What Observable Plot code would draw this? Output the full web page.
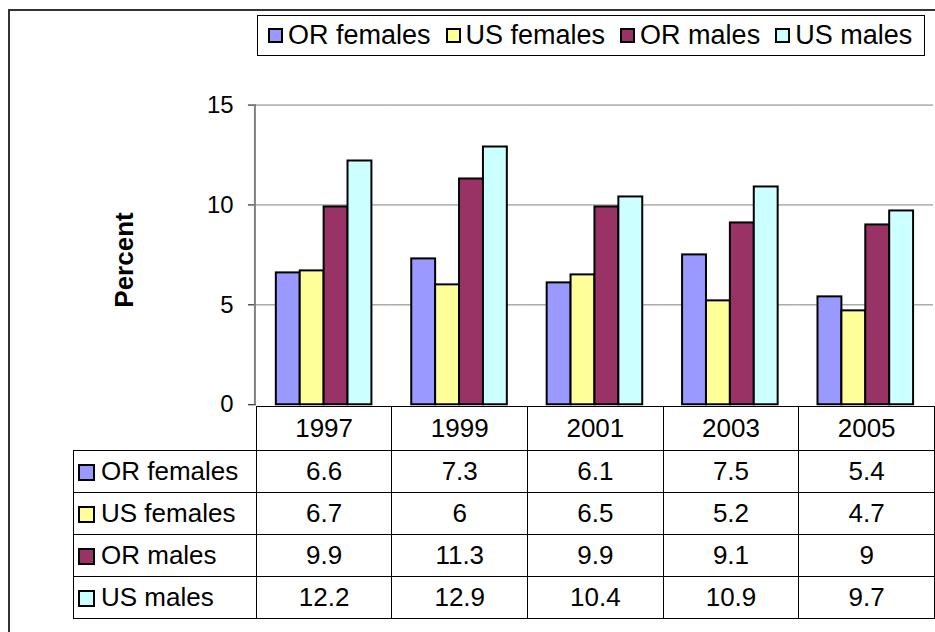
<!DOCTYPE html>
<html><head><meta charset="utf-8">
<script src="https://cdn.jsdelivr.net/npm/d3@7"></script>
<script src="https://cdn.jsdelivr.net/npm/@observablehq/plot@0.6"></script>
<style>
html,body{margin:0;padding:0;background:#fff;overflow:hidden;}
#root{position:relative;width:935px;height:632px;overflow:hidden;font-family:"Liberation Sans",Arial,sans-serif;color:#000;}
#frame{position:absolute;left:8px;top:9px;width:1000px;height:700px;border-left:2px solid #333;border-top:2px solid #333;}
#chart{position:absolute;left:0;top:0;}
#legend{position:absolute;left:257px;top:15px;width:666px;height:39px;border:1px solid #000;background:#fff;display:flex;align-items:center;font-size:27px;}
.li{display:flex;align-items:center;margin-right:15px;white-space:nowrap;}
.li:first-child{margin-left:10px;}
#legend .sw{display:inline-block;width:11px;height:11px;border:2px solid #000;margin-right:5px;}
#ylab{position:absolute;left:124px;top:260px;transform:translate(-50%,-50%) rotate(-90deg);font-weight:bold;font-size:26px;white-space:nowrap;}
#tbl{position:absolute;left:73px;top:406px;border-collapse:collapse;table-layout:fixed;font-size:26px;}
#tbl td{border:1px solid #000;text-align:center;padding:0;white-space:nowrap;overflow:hidden;}
#tbl td.corner{border-top:hidden;border-left:hidden;}
#tbl td.lab{text-align:left;padding-left:4px;}
#tbl td.lab .sw{display:inline-block;width:13px;height:13px;border:2px solid #000;margin-right:6px;vertical-align:-1px;}
</style></head>
<body><div id="root"><div id="frame"></div><div id="chart"></div><div id="ylab">Percent</div><div id="legend"></div><table id="tbl"></table></div>
<script>
const years = ["1997","1999","2001","2003","2005"];
const seriesNames = ["OR females","US females","OR males","US males"];
const seriesColors = ["#9999FF","#FFFF99","#993366","#CCFFFF"];
const orFemales = [6.6,7.3,6.1,7.5,5.4];
const usFemales = [6.7,6,6.5,5.2,4.7];
const orMales = [9.9,11.3,9.9,9.1,9];
const usMales = [12.2,12.9,10.4,10.9,9.7];
const yTicks = [0,5,10,15];
const gridTicks = [5,10,15];

const seriesValues = [orFemales, usFemales, orMales, usMales];
const rows = years.flatMap((yr,i)=>seriesNames.map((s,j)=>({year:yr, series:s, value:seriesValues[j][i]})));

const chart = Plot.plot({
  width: 939, height: 420,
  marginLeft: 256, marginRight: 0.5, marginTop: 105, marginBottom: 14,
  style: {fontFamily: "'Liberation Sans', Arial, sans-serif", fontSize: "24px", background: "transparent", overflow: "visible", color:"#000"},
  fx: {domain: years, paddingInner: 0, paddingOuter: 0, axis: null, label: null},
  x: {domain: seriesNames, paddingInner: 0, paddingOuter: 0.77, axis: null, label: null},
  y: {domain: [0,15], axis: null},
  color: {domain: seriesNames, range: seriesColors},
  marks: [
    Plot.ruleY(gridTicks, {stroke:"#808080", strokeWidth:1}),
    Plot.barY(rows, {fx:"year", x:"series", y:"value", fill:"series", stroke:"#000", strokeWidth:2}),
    Plot.axisY({ticks: yTicks, tickSize: 8, tickPadding: 15, fontSize: 24, label: null})
  ]
});
document.getElementById("chart").appendChild(chart);
// left axis line from scales
const ys = chart.scale("y"), fxs = chart.scale("fx");
d3.select(chart).append("line")
  .attr("x1", fxs.range[0]).attr("x2", fxs.range[0])
  .attr("y1", ys.apply(0)).attr("y2", ys.apply(15))
  .attr("stroke", "#808080").attr("stroke-width", 2);

// legend
const leg = d3.select("#legend");
seriesNames.forEach((s,j)=>{
  const it = leg.append("div").attr("class","li");
  it.append("span").attr("class","sw").style("background", seriesColors[j]);
  it.append("span").text(s);
});

// table
const tbl = d3.select("#tbl");
const cg = tbl.append("colgroup");
cg.append("col").style("width","183px");
years.forEach(()=>cg.append("col").style("width","136.5px"));
const hr = tbl.append("tr").style("height","44px");
hr.append("td").attr("class","corner");
years.forEach(y=>hr.append("td").text(y));
seriesNames.forEach((s,j)=>{
  const tr = tbl.append("tr").style("height","42px");
  const lab = tr.append("td").attr("class","lab");
  lab.append("span").attr("class","sw").style("background", seriesColors[j]);
  lab.append("span").text(s);
  seriesValues[j].forEach(v=>tr.append("td").text(String(v)));
});
</script></body></html>
